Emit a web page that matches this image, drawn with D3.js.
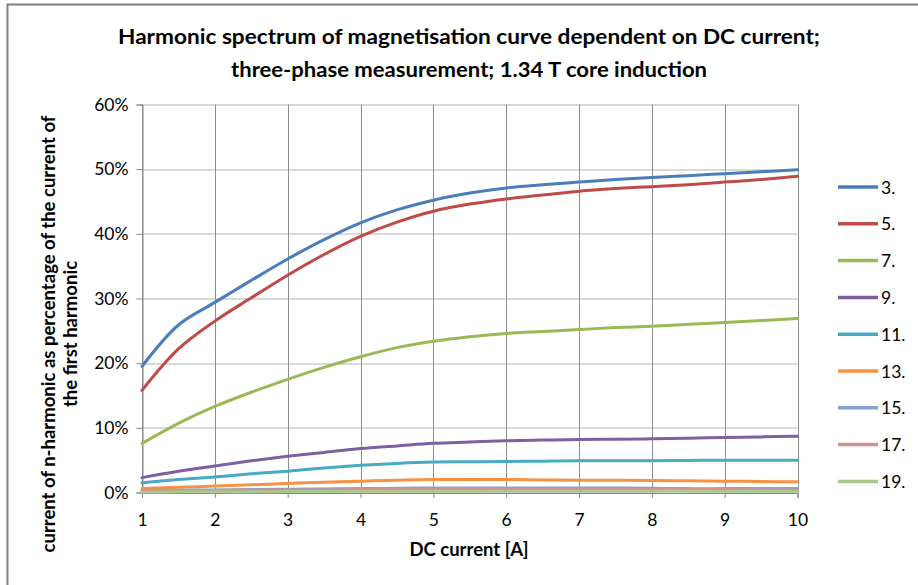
<!DOCTYPE html>
<html>
<head>
<meta charset="utf-8">
<script src="https://cdn.jsdelivr.net/npm/d3@7"></script>
<style>
  body { margin: 0; background: #fff; }
  text { font-family: Lato, "Open Sans", sans-serif; fill: #000; }
</style>
</head>
<body>
<div id="chart"></div>
<script>
// DC current [A]
var currents = [1, 1.5, 2, 2.5, 3, 3.5, 4, 4.5, 5, 5.5, 6, 6.5, 7, 7.5, 8, 8.5, 9, 9.5, 10];

// harmonic amplitudes, % of first harmonic
var h3  = [19.5, 25.9, 29.4, 32.8, 36.1, 39.1, 41.7, 43.7, 45.2, 46.3, 47.1, 47.6, 48.0, 48.4, 48.7, 49.0, 49.3, 49.6, 49.9];
var h5  = [15.8, 22.2, 26.5, 30.1, 33.6, 36.8, 39.6, 41.8, 43.5, 44.6, 45.4, 46.0, 46.6, 47.0, 47.3, 47.6, 48.0, 48.4, 48.9];
var h7  = [7.6, 10.7, 13.3, 15.5, 17.5, 19.35, 21.0, 22.4, 23.4, 24.1, 24.6, 24.9, 25.2, 25.5, 25.7, 26.0, 26.3, 26.6, 26.9];
var h9  = [2.3, 3.3, 4.1, 4.9, 5.6, 6.2, 6.8, 7.2, 7.6, 7.8, 8.0, 8.1, 8.2, 8.25, 8.3, 8.4, 8.5, 8.6, 8.7];
var h11 = [1.5, 2.0, 2.4, 2.9, 3.3, 3.8, 4.2, 4.5, 4.7, 4.75, 4.8, 4.85, 4.9, 4.9, 4.9, 4.95, 5.0, 5.0, 5.0];
var h13 = [0.6, 0.8, 1.0, 1.2, 1.4, 1.6, 1.75, 1.9, 2.0, 2.0, 2.0, 1.95, 1.9, 1.9, 1.85, 1.8, 1.75, 1.7, 1.65];
var h15 = [0.3, 0.35, 0.4, 0.45, 0.5, 0.55, 0.6, 0.65, 0.7, 0.7, 0.7, 0.7, 0.7, 0.7, 0.65, 0.6, 0.6, 0.6, 0.6];
var h17 = [0.2, 0.25, 0.3, 0.35, 0.4, 0.4, 0.45, 0.45, 0.5, 0.5, 0.5, 0.5, 0.5, 0.5, 0.45, 0.45, 0.45, 0.4, 0.4];
var h19 = [0.05, 0.1, 0.1, 0.1, 0.15, 0.15, 0.2, 0.2, 0.2, 0.2, 0.25, 0.25, 0.25, 0.25, 0.25, 0.25, 0.2, 0.2, 0.2];

var seriesNames = ["3.", "5.", "7.", "9.", "11.", "13.", "15.", "17.", "19."];
var seriesValues = [h3, h5, h7, h9, h11, h13, h15, h17, h19];
var seriesColors = ["#4a7ebb", "#be4b48", "#98b954", "#7d60a0", "#46aac5", "#f69240", "#86a4d0", "#d48f8e", "#a9c98b"];

var xTicks = [1, 2, 3, 4, 5, 6, 7, 8, 9, 10];
var yTicks = [0, 10, 20, 30, 40, 50, 60];

var titleLines = ["Harmonic spectrum of magnetisation curve dependent on DC current;",
                  "three-phase measurement; 1.34 T core induction"];
var yTitleLines = ["current of n-harmonic as percentage of the current of", "the first harmonic"];
var xTitle = "DC current [A]";

var W = 918, H = 585;
var margin = {top: 104.5, right: 120.5, bottom: 92.5, left: 142};
var pW = W - margin.left - margin.right,
    pH = H - margin.top - margin.bottom;

var svg = d3.select("#chart").append("svg")
    .attr("width", W)
    .attr("height", H);

// chart frame
svg.append("rect")
    .attr("x", 7.5).attr("y", 4.5)
    .attr("width", 1000).attr("height", 1000)
    .attr("fill", "none")
    .attr("stroke", "#808080")
    .attr("stroke-width", 2);

var g = svg.append("g")
    .attr("transform", "translate(" + margin.left + "," + margin.top + ")");

var x = d3.scaleLinear().domain([1, 10]).range([0, pW]);
var y = d3.scaleLinear().domain([0, 60]).range([pH, 0]);

// grid lines
g.append("g")
    .selectAll("line")
    .data(yTicks)
    .enter().append("line")
    .attr("x1", 0).attr("x2", pW)
    .attr("y1", d => Math.round(y(d)) + 0.5)
    .attr("y2", d => Math.round(y(d)) + 0.5)
    .attr("stroke", "#b3b3b3");

g.append("g")
    .selectAll("line")
    .data(xTicks)
    .enter().append("line")
    .attr("x1", d => Math.round(x(d)) + 0.5)
    .attr("x2", d => Math.round(x(d)) + 0.5)
    .attr("y1", 0).attr("y2", pH)
    .attr("stroke", "#8c8c8c");

// axes
var yAxis = g.append("g")
    .attr("transform", "translate(0.5,0)")
    .call(d3.axisLeft(y).tickValues(yTicks).tickSize(6).tickPadding(8).tickFormat(d => d + "%"));

var xAxis = g.append("g")
    .attr("transform", "translate(0," + (Math.round(pH) + 0.5) + ")")
    .call(d3.axisBottom(x).tickValues(xTicks).tickSize(5).tickPadding(16));

[xAxis, yAxis].forEach(function (ax) {
    ax.select(".domain").attr("stroke", "#868686");
    ax.selectAll(".tick line").attr("stroke", "#868686");
    ax.selectAll("text")
        .style("font-family", "Lato, sans-serif")
        .style("font-size", "17.5px")
        .attr("fill", "#1a1a1a");
});

// lines (smoothed like the spreadsheet's curves)
var line = d3.line()
    .x((d, i) => x(currents[i]))
    .y(d => y(d))
    .curve(d3.curveCatmullRom);

g.append("g")
    .selectAll("path")
    .data(seriesValues)
    .enter().append("path")
    .attr("d", d => line(d))
    .attr("fill", "none")
    .attr("stroke", (d, i) => seriesColors[i])
    .attr("stroke-width", 3)
    .attr("stroke-linecap", "round");

// title
svg.append("g")
    .selectAll("text")
    .data(titleLines)
    .enter().append("text")
    .attr("x", 469)
    .attr("y", (d, i) => 44 + i * 33)
    .attr("text-anchor", "middle")
    .attr("textLength", (d, i) => i === 0 ? 702 : 476)
    .attr("lengthAdjust", "spacingAndGlyphs")
    .style("font-size", "21px")
    .style("font-weight", "bold")
    .text(d => d);

// y-axis title
svg.append("g")
    .selectAll("text")
    .data(yTitleLines)
    .enter().append("text")
    .attr("transform", (d, i) => "translate(" + (55 + i * 22) + ",334) rotate(-90)")
    .attr("text-anchor", "middle")
    .style("font-size", "18.5px")
    .style("font-weight", "bold")
    .text(d => d);

// x-axis title
svg.append("text")
    .attr("x", 469)
    .attr("y", 556)
    .attr("text-anchor", "middle")
    .style("font-size", "18.5px")
    .style("font-weight", "bold")
    .text(xTitle);

// legend
var legend = svg.append("g")
    .attr("transform", "translate(838,187)");

var item = legend.selectAll("g")
    .data(seriesNames)
    .enter().append("g")
    .attr("transform", (d, i) => "translate(0," + (i * 36.8) + ")");

item.append("line")
    .attr("x1", 0).attr("x2", 40)
    .attr("y1", 0).attr("y2", 0)
    .attr("stroke", (d, i) => seriesColors[i])
    .attr("stroke-width", 3.5);

item.append("text")
    .attr("x", 43)
    .attr("y", 6.5)
    .style("font-size", "17.5px")
    .attr("fill", "#1a1a1a")
    .text(d => d);
</script>
</body>
</html>
